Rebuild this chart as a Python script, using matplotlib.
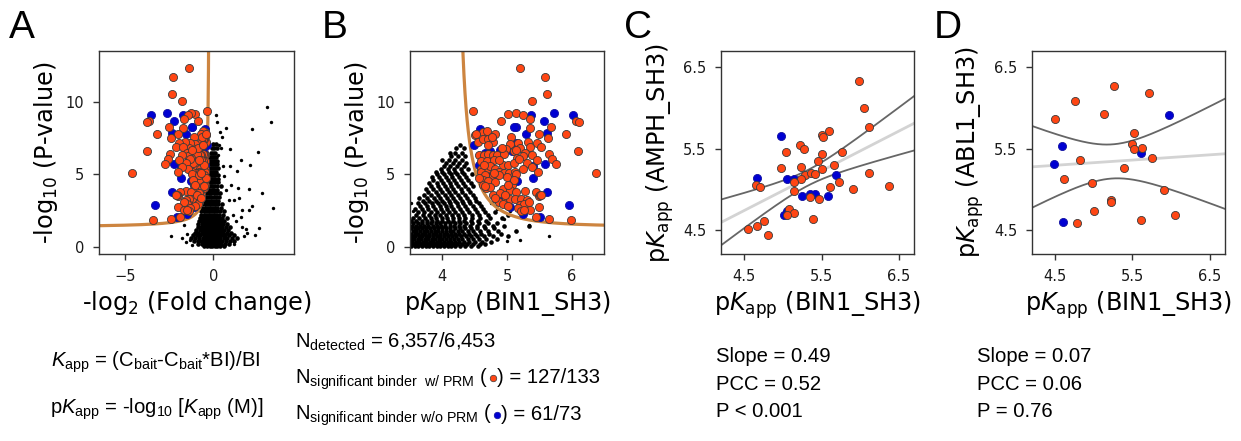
import numpy as np
import matplotlib
matplotlib.use("Agg")
import matplotlib.pyplot as plt
from matplotlib import font_manager as fm

# ------------------------------------------------------------------ data
# significant binders (panel B space): pKapp (BIN1_SH3), -log10 P
prm_pk = [5.20, 5.59, 5.61, 5.39, 4.47, 5.02, 5.14, 5.24, 4.91, 5.35, 5.36, 5.68, 6.06, 6.11, 5.91,
          6.10, 6.37, 4.50, 4.62, 4.69, 4.81, 5.06, 5.49, 5.63, 4.55, 4.63, 4.70, 4.78, 5.04, 5.17,
          5.20, 5.32, 5.46, 5.52, 5.36, 4.98, 5.11, 5.27, 4.57, 4.64, 4.71, 4.78, 4.84, 4.95, 5.15,
          5.24, 5.39, 5.65, 5.70, 5.76, 4.59, 4.69, 4.80, 4.94, 5.01, 5.10, 5.19, 5.30, 5.46, 4.60,
          4.69, 4.74, 4.82, 4.88, 4.95, 5.03, 5.12, 5.24, 5.38, 5.48, 4.59, 4.66, 4.78, 4.99, 5.13,
          4.62, 4.71, 4.82, 4.93, 4.67, 4.73, 5.07, 5.28, 5.44, 5.49, 5.51, 5.05, 5.14, 4.78, 4.83,
          4.88, 4.98, 5.05, 5.12, 5.21, 5.30, 4.93, 5.20, 5.26, 5.34, 5.49, 5.53, 5.02, 5.17, 5.22,
          5.35, 5.44, 5.64, 5.99, 5.26, 4.89, 4.97, 4.81, 4.62, 4.56, 4.87, 4.79, 4.65, 4.87, 4.92,
          4.76, 4.52, 5.13, 5.10, 5.02, 4.66, 4.71]
prm_p = [12.34, 11.68, 10.55, 10.07, 9.40, 9.17, 9.24, 9.06, 8.69, 8.80, 8.21, 8.28, 8.67, 8.60, 7.75,
         6.64, 5.10, 7.70, 7.93, 8.02, 7.79, 7.59, 7.75, 7.49, 7.24, 7.47, 7.47, 7.24, 7.08, 7.15,
         6.80, 7.22, 7.15, 6.92, 6.87, 6.78, 6.64, 6.51, 6.37, 6.32, 6.41, 6.37, 6.37, 6.39, 6.14,
         6.30, 6.37, 6.44, 6.09, 5.72, 5.91, 5.91, 5.98, 5.68, 5.68, 5.77, 6.07, 5.77, 6.00, 5.40,
         5.40, 5.56, 5.38, 5.15, 5.13, 5.10, 5.17, 5.40, 5.49, 5.20, 5.15, 4.94, 4.94, 4.80, 5.03,
         4.64, 4.57, 4.46, 4.02, 4.07, 4.14, 4.30, 3.84, 3.77, 3.49, 3.61, 3.93, 3.79, 3.56, 3.33,
         3.10, 3.38, 3.33, 3.33, 3.31, 3.26, 2.97, 2.92, 2.97, 3.10, 2.78, 3.56, 2.80, 2.69, 2.46,
         2.57, 2.09, 1.93, 1.89, 2.57, 3.72, 3.61, 3.38, 4.30, 4.76, 4.99, 5.10, 5.68, 6.02, 6.83,
         7.56, 7.75, 6.71, 4.64, 4.30, 4.18, 7.06]
noprm_pk = [5.37, 5.72, 5.57, 6.02, 5.13, 5.11, 4.58, 5.29, 5.62, 4.49, 5.14, 4.89, 4.73, 4.66, 5.08,
            4.78, 5.58, 4.57, 5.40, 4.73, 4.63, 4.74, 5.40, 5.15, 4.75, 5.06, 5.62, 4.90, 5.05, 5.25,
            5.25, 5.51, 5.96, 4.96]
noprm_p = [9.06, 9.20, 8.69, 9.08, 8.28, 8.25, 8.12, 7.75, 7.86, 7.03, 7.17, 6.69, 6.60, 6.48, 6.60,
           6.14, 5.75, 5.63, 5.56, 5.17, 5.59, 5.59, 4.74, 4.57, 4.34, 4.30, 3.79, 3.43, 2.74, 3.15,
           2.28, 2.09, 2.87, 3.10]

# panel A, non-significant proteins: -log2 FC per row of -log10 P
a_bg_rows_y = [0.05, 0.2, 0.4, 0.6, 0.8, 1.0, 1.2, 1.4, 1.6, 1.8, 2.0, 2.2, 2.45, 2.7, 2.95, 3.2,
               3.45, 3.7, 3.95, 4.2, 4.45, 4.7, 4.95, 5.2, 5.45, 5.7, 5.95, 6.2, 6.5, 6.8, 7.1]
a_bg_rows_x = [
    [-0.55, -0.35, -0.2, -0.05, 0.08, 0.22, 0.4, 0.6],
    [-0.85, -0.62, -0.45, -0.3, -0.15, 0.0, 0.12, 0.27, 0.45, 0.66, 0.9],
    [-1.1, -0.9, -0.7, -0.52, -0.38, -0.22, -0.08, 0.05, 0.18, 0.33, 0.5, 0.72, 0.95, 1.2],
    [-1.25, -1.02, -0.82, -0.6, -0.44, -0.3, -0.16, -0.02, 0.11, 0.25, 0.4, 0.58, 0.8, 1.05, 1.35],
    [-1.15, -0.93, -0.74, -0.56, -0.4, -0.25, -0.1, 0.03, 0.17, 0.32, 0.48, 0.67, 0.9, 1.15],
    [-1.05, -0.85, -0.66, -0.5, -0.35, -0.2, -0.06, 0.08, 0.22, 0.38, 0.55, 0.76, 1.0],
    [-0.98, -0.78, -0.6, -0.45, -0.3, -0.15, -0.01, 0.13, 0.28, 0.44, 0.62, 0.85],
    [-0.9, -0.72, -0.55, -0.4, -0.26, -0.11, 0.03, 0.17, 0.32, 0.5, 0.7, 0.95],
    [-0.85, -0.66, -0.5, -0.36, -0.22, -0.08, 0.06, 0.2, 0.36, 0.54, 0.8],
    [-0.8, -0.62, -0.46, -0.32, -0.18, -0.04, 0.1, 0.25, 0.42, 0.62],
    [-0.76, -0.58, -0.42, -0.28, -0.14, 0.0, 0.14, 0.3, 0.5, 0.75],
    [-0.72, -0.55, -0.4, -0.26, -0.12, 0.02, 0.17, 0.34, 0.55],
    [-0.7, -0.52, -0.37, -0.23, -0.09, 0.05, 0.2, 0.38, 0.6],
    [-0.66, -0.49, -0.34, -0.2, -0.06, 0.08, 0.23, 0.42],
    [-0.63, -0.46, -0.31, -0.17, -0.03, 0.11, 0.26, 0.5],
    [-0.6, -0.44, -0.29, -0.15, -0.01, 0.13, 0.29],
    [-0.57, -0.41, -0.27, -0.13, 0.01, 0.15, 0.32],
    [-0.54, -0.39, -0.25, -0.11, 0.03, 0.18, 0.4],
    [-0.51, -0.36, -0.22, -0.09, 0.05, 0.2],
    [-0.48, -0.34, -0.2, -0.07, 0.06, 0.22, 0.42],
    [-0.45, -0.31, -0.18, -0.05, 0.08, 0.24],
    [-0.4, -0.28, -0.15, -0.03, 0.1, 0.26],
    [-0.36, -0.24, -0.12, 0.0, 0.12, 0.28],
    [-0.33, -0.21, -0.09, 0.03, 0.15],
    [-0.31, -0.19, -0.07, 0.05, 0.17, 0.29],
    [-0.29, -0.16, -0.04, 0.08, 0.2],
    [-0.27, -0.14, -0.02, 0.1, 0.22],
    [-0.2, -0.08, 0.04, 0.16],
    [-0.15, -0.02, 0.12],
    [-0.08, 0.06, 0.2],
    [-0.03, 0.15],
]
a_sc_x = [0.13, 0.70, 2.17, 3.06, 3.27, 0.93, 2.53, 1.58, 2.11, 1.33, 0.30, 0.25, 2.05, 2.74, 3.38,
          2.19, 1.62, 2.00, 1.20, 0.87, 0.60, 0.55, 0.70, 1.00, 1.40, 1.10, 1.30, 1.60, 1.86, 2.34,
          1.56, 1.75, 1.90, 0.50, 0.35, 0.20, -2.41, -1.69, -1.50, -1.35, -1.55, -1.80, 0.95, 1.45,
          0.45, 1.20, -1.20, 2.60]
a_sc_y = [9.10, 8.18, 8.16, 9.63, 8.62, 6.76, 6.53, 6.02, 5.68, 5.22, 7.06, 6.37, 4.02, 3.72, 2.69,
          2.80, 2.57, 2.57, 3.24, 3.26, 4.90, 5.60, 3.90, 4.30, 4.10, 2.20, 1.80, 1.40, 1.26, 0.85,
          2.05, 0.75, 1.00, 7.60, 7.90, 8.60, 0.74, 1.52, 0.90, 0.50, 0.35, 0.60, 5.60, 3.40, 6.80,
          0.20, 0.15, 1.30]

# panel B, non-significant proteins: pKapp per row of -log10 P
b_bg_rows_y = [0.05, 0.2, 0.38, 0.56, 0.74, 0.92, 1.1, 1.28, 1.46, 1.64, 1.82, 2.0, 2.2, 2.4, 2.6,
               2.8, 3.0, 3.2, 3.4, 3.6, 3.8, 4.0, 4.2, 4.4, 4.6, 4.8, 5.0, 5.2, 5.4, 5.6, 5.8, 6.0,
               6.25, 6.5, 6.8, 7.05]
b_bg_rows_x = [
    [3.52, 3.58, 3.63, 3.69, 3.74, 3.8, 3.86, 3.91, 3.97, 4.02, 4.08, 4.14, 4.2, 4.27, 4.35, 4.44, 4.55],
    [3.51, 3.56, 3.61, 3.67, 3.72, 3.78, 3.83, 3.89, 3.94, 4.0, 4.05, 4.11, 4.17, 4.23, 4.3, 4.38, 4.47, 4.58, 4.66],
    [3.53, 3.59, 3.64, 3.7, 3.75, 3.81, 3.86, 3.92, 3.97, 4.03, 4.08, 4.14, 4.2, 4.26, 4.33, 4.41, 4.5, 4.61, 4.75],
    [3.51, 3.56, 3.62, 3.67, 3.73, 3.78, 3.84, 3.89, 3.95, 4.0, 4.06, 4.12, 4.18, 4.24, 4.31, 4.39, 4.48, 4.57, 4.68, 4.85],
    [3.53, 3.58, 3.64, 3.69, 3.75, 3.8, 3.86, 3.92, 3.97, 4.03, 4.09, 4.15, 4.21, 4.28, 4.36, 4.44, 4.53, 4.64, 4.78, 5.02],
    [3.51, 3.57, 3.62, 3.68, 3.73, 3.79, 3.85, 3.9, 3.96, 4.02, 4.07, 4.13, 4.19, 4.26, 4.33, 4.41, 4.5, 4.6, 4.72, 4.9],
    [3.54, 3.6, 3.65, 3.71, 3.77, 3.82, 3.88, 3.94, 3.99, 4.05, 4.11, 4.17, 4.24, 4.31, 4.39, 4.48, 4.58, 4.7, 4.86, 5.13],
    [3.52, 3.58, 3.63, 3.69, 3.75, 3.81, 3.87, 3.93, 3.99, 4.05, 4.12, 4.19, 4.27, 4.35, 4.44, 4.54, 4.66, 4.8],
    [3.53, 3.6, 3.66, 3.72, 3.78, 3.85, 3.91, 3.98, 4.04, 4.11, 4.18, 4.26, 4.34, 4.43, 4.53, 4.64, 4.78, 4.95, 5.34],
    [3.55, 3.62, 3.69, 3.76, 3.83, 3.9, 3.97, 4.04, 4.11, 4.19, 4.27, 4.36, 4.46, 4.57, 4.7, 4.85],
    [3.52, 3.6, 3.68, 3.76, 3.84, 3.92, 4.0, 4.08, 4.16, 4.25, 4.34, 4.44, 4.55, 4.68],
    [3.55, 3.64, 3.73, 3.82, 3.9, 3.99, 4.07, 4.16, 4.25, 4.35, 4.46, 4.58, 4.74, 4.92],
    [3.6, 3.7, 3.79, 3.88, 3.97, 4.06, 4.15, 4.24, 4.34, 4.45, 4.57, 4.71, 5.02],
    [3.62, 3.72, 3.82, 3.92, 4.01, 4.1, 4.2, 4.3, 4.41, 4.53, 4.66, 4.82],
    [3.58, 3.68, 3.78, 3.88, 3.98, 4.07, 4.17, 4.27, 4.38, 4.5, 4.62],
    [3.66, 3.76, 3.86, 3.96, 4.05, 4.14, 4.24, 4.35, 4.47, 4.6],
    [3.62, 3.73, 3.84, 3.94, 4.03, 4.12, 4.22, 4.32, 4.43, 4.56],
    [3.7, 3.8, 3.9, 4.0, 4.1, 4.2, 4.3, 4.41, 4.52],
    [3.64, 3.76, 3.87, 3.97, 4.07, 4.17, 4.27, 4.38, 4.5],
    [3.72, 3.83, 3.94, 4.04, 4.14, 4.24, 4.35, 4.47],
    [3.78, 3.9, 4.0, 4.1, 4.2, 4.31, 4.43],
    [3.74, 3.86, 3.97, 4.07, 4.17, 4.28, 4.4],
    [3.82, 3.94, 4.04, 4.14, 4.24, 4.35, 4.48],
    [3.8, 3.91, 4.01, 4.11, 4.21, 4.32, 4.44],
    [3.86, 3.98, 4.08, 4.18, 4.29, 4.4],
    [3.84, 3.95, 4.05, 4.15, 4.26, 4.37],
    [3.92, 4.03, 4.13, 4.23, 4.34, 4.46],
    [3.9, 4.0, 4.1, 4.2, 4.31],
    [3.98, 4.08, 4.18, 4.28, 4.4],
    [4.02, 4.12, 4.22, 4.33],
    [4.06, 4.16, 4.26, 4.37],
    [4.0, 4.1, 4.2, 4.3],
    [4.14, 4.24, 4.35],
    [4.12, 4.2, 4.3],
    [4.21, 4.33],
    [4.27],
]
b_sc_x = [5.64, 5.34, 5.13, 5.00, 5.20, 4.95, 5.05, 4.85, 4.75, 3.55, 3.52]
b_sc_y = [0.78, 1.54, 1.08, 0.40, 0.50, 1.90, 2.50, 2.60, 3.00, 2.50, 3.00]

# panel C: pKapp BIN1_SH3 vs AMPH_SH3
c_prm_x = [5.99, 6.05, 6.11, 5.60, 5.51, 5.52, 5.22, 5.27, 5.04, 5.50, 5.76, 5.45, 4.98, 5.23, 5.50,
           5.66, 6.11, 5.29, 5.36, 5.41, 5.23, 5.14, 5.72, 4.65, 4.70, 5.15, 5.61, 5.91, 6.37, 5.35,
           5.47, 5.08, 5.14, 5.05, 5.39, 4.76, 4.67, 4.55, 4.81]
c_prm_y = [6.33, 6.00, 5.76, 5.72, 5.67, 5.64, 5.55, 5.50, 5.46, 5.43, 5.46, 5.35, 5.26, 5.27, 5.25,
           5.30, 5.20, 5.18, 5.20, 5.19, 5.13, 5.09, 5.09, 5.05, 5.03, 4.98, 5.03, 5.00, 5.04, 4.91,
           4.88, 4.76, 4.71, 4.68, 4.63, 4.61, 4.55, 4.51, 4.44]
c_noprm_x = [4.97, 4.67, 5.05, 5.15, 5.69, 5.25, 5.35, 5.41, 5.58, 5.06, 5.02]
c_noprm_y = [5.66, 5.14, 5.12, 5.12, 5.17, 4.92, 4.94, 4.94, 4.92, 4.73, 4.68]

# panel D: pKapp BIN1_SH3 vs ABL1_SH3
d_prm_x = [5.27, 5.72, 4.76, 5.14, 4.50, 5.52, 5.50, 5.52, 5.63, 5.76, 4.82, 5.39, 4.62, 4.98, 5.91,
           5.23, 5.23, 5.01, 6.05, 5.61, 4.78]
d_prm_y = [6.27, 6.18, 6.09, 5.92, 5.86, 5.69, 5.56, 5.49, 5.51, 5.39, 5.36, 5.26, 5.13, 5.08, 4.99,
           4.87, 4.84, 4.73, 4.68, 4.62, 4.58]
d_noprm_x = [5.97, 4.59, 4.49, 5.62, 4.61]
d_noprm_y = [5.91, 5.53, 5.31, 5.44, 4.60]

# significance threshold (panel A space): y = y0 + c / (x0 - x)
thr_x0, thr_c, thr_y0 = -0.21, 0.75, 1.35
bait_pconc = 5.0  # -log10 of bait concentration (10 uM)

# ------------------------------------------------------------------ helpers
def pk_to_lfc(pk):
    return -np.log2(1.0 + 10.0 ** (np.asarray(pk, float) - bait_pconc))


def lfc_to_pk(lfc):
    return bait_pconc + np.log10(2.0 ** (-np.asarray(lfc, float)) - 1.0)


def flatten(rows_y, rows_x):
    xs, ys = [], []
    for yv, row in zip(rows_y, rows_x):
        xs.extend(row)
        ys.extend([yv] * len(row))
    return np.array(xs), np.array(ys)


def fit_ci(x, y, xs, t):
    x = np.asarray(x); y = np.asarray(y)
    n = len(x)
    b, a = np.polyfit(x, y, 1)
    s = np.sqrt(np.sum((y - (a + b * x)) ** 2) / (n - 2))
    sxx = np.sum((x - x.mean()) ** 2)
    se = s * np.sqrt(1.0 / n + (xs - x.mean()) ** 2 / sxx)
    yh = a + b * xs
    return yh, yh - t * se, yh + t * se

# ------------------------------------------------------------------ fonts
try:
    fm.findfont(fm.FontProperties(family="Liberation Sans Narrow"), fallback_to_default=False)
    NOTE_FONT, NOTE_SIZE = "Liberation Sans Narrow", 16.5
except Exception:
    NOTE_FONT, NOTE_SIZE = "Liberation Sans", 14.6
plt.rcParams["mathtext.rm"] = NOTE_FONT
plt.rcParams["mathtext.it"] = NOTE_FONT + ":italic"
plt.rcParams["mathtext.bf"] = NOTE_FONT + ":bold"
plt.rcParams["font.family"] = ["DejaVu Sans"]

W, H = 1241, 441
fig = plt.figure(figsize=(W / 100, H / 100), dpi=100)

ORANGE = "#FF4614"
BLUE = "#0000D2"
CURVE = "#CD8540"
SPINE = "#333333"
LBL = 17.3
TICK = 10.5


def style(ax):
    for s in ax.spines.values():
        s.set_linewidth(1.0)
        s.set_color(SPINE)
    ax.tick_params(direction="out", length=4.5, width=1.0, color=SPINE, pad=6,
                   labelsize=TICK, labelcolor="#1a1a1a")


def px_axes(l, r, t, b):
    return fig.add_axes([l / W, 1 - b / H, (r - l) / W, (b - t) / H])

axA = px_axes(99, 294.3, 51, 254.3)
axB = px_axes(410, 604.3, 51, 254.3)
axC = px_axes(721, 914.3, 51, 254.3)
axD = px_axes(1031.7, 1225, 51, 254.3)

dot_kw = dict(s=34, linewidths=0.6, edgecolors="#3a3a3a", zorder=4)
blue_kw = dict(s=34, linewidths=0.6, edgecolors="#1010a0", zorder=3)
bg_kw = dict(s=11, c="black", linewidths=0, zorder=1)
sc_kw = dict(s=6, c="black", linewidths=0, zorder=1)

d = np.geomspace(0.03, 14, 600)
thr_y = thr_y0 + d
thr_x = thr_x0 - thr_c / d

# Panel A
ax_x, ax_y = flatten(a_bg_rows_y, a_bg_rows_x)
axA.scatter(ax_x, ax_y, **bg_kw)
axA.scatter(a_sc_x, a_sc_y, **sc_kw)
axA.plot(thr_x, thr_y, color=CURVE, lw=2.3, zorder=2)
axA.scatter(pk_to_lfc(noprm_pk), noprm_p, c=BLUE, **blue_kw)
axA.scatter(pk_to_lfc(prm_pk), prm_p, c=ORANGE, **dot_kw)
axA.set_xlim(-6.5, 4.6)
axA.set_ylim(-0.5, 13.5)
axA.set_xticks([-5, 0])
axA.set_yticks([0, 5, 10])
axA.set_xlabel("-log$_2$ (Fold change)", fontsize=LBL)
axA.set_ylabel("-log$_{10}$ (P-value)", fontsize=LBL)
style(axA)

# Panel B
bx, by = flatten(b_bg_rows_y, b_bg_rows_x)
axB.scatter(bx, by, **bg_kw)
axB.scatter(b_sc_x, b_sc_y, **sc_kw)
axB.plot(lfc_to_pk(thr_x), thr_y, color=CURVE, lw=2.3, zorder=2)
axB.scatter(noprm_pk, noprm_p, c=BLUE, **blue_kw)
axB.scatter(prm_pk, prm_p, c=ORANGE, **dot_kw)
axB.set_xlim(3.5, 6.5)
axB.set_ylim(-0.5, 13.5)
axB.set_xticks([4, 5, 6])
axB.set_yticks([0, 5, 10])
axB.set_xlabel(r"p$K_{\mathrm{app}}$ (BIN1_SH3)", fontsize=LBL)
axB.set_ylabel("-log$_{10}$ (P-value)", fontsize=LBL)
style(axB)

# Panels C, D
xs = np.linspace(4.2, 6.7, 200)
for ax, px_, py_, bx_, by_, name in [
        (axC, c_prm_x, c_prm_y, c_noprm_x, c_noprm_y, "AMPH_SH3"),
        (axD, d_prm_x, d_prm_y, d_noprm_x, d_noprm_y, "ABL1_SH3")]:
    allx = np.r_[px_, bx_]
    ally = np.r_[py_, by_]
    t = 2.01 if len(allx) > 40 else 2.06
    yh, lo, hi = fit_ci(allx, ally, xs, t)
    ax.plot(xs, yh, color="#d3d3d3", lw=2.0, zorder=2)
    ax.plot(xs, lo, color="#666666", lw=1.3, zorder=2)
    ax.plot(xs, hi, color="#666666", lw=1.3, zorder=2)
    ax.scatter(px_, py_, c=ORANGE, **dot_kw)
    ax.scatter(bx_, by_, c=BLUE, **blue_kw)
    ax.set_xlim(4.2, 6.7)
    ax.set_ylim(4.2, 6.7)
    ax.set_xticks([4.5, 5.5, 6.5])
    ax.set_yticks([4.5, 5.5, 6.5])
    ax.set_xlabel(r"p$K_{\mathrm{app}}$ (BIN1_SH3)", fontsize=LBL)
    ax.set_ylabel(r"p$K_{\mathrm{app}}$ (" + name + ")", fontsize=LBL,
                  labelpad=5 if name == "AMPH_SH3" else 6)
    style(ax)

# panel letters
for lx, letter in [(9, "A"), (322, "B"), (624, "C"), (934, "D")]:
    fig.text(lx / W, 1 - 38.5 / H, letter, fontsize=28, family="Liberation Sans",
             va="baseline", ha="left")

# notes below the panels
def note(xp, yp, s, **kw):
    return fig.text(xp / W, 1 - yp / H, s, fontsize=NOTE_SIZE, family=NOTE_FONT,
                    math_fontfamily="custom", va="baseline", ha="left", **kw)

note(51, 366.7, r"$K_{\mathrm{app}}$ = (C$_{\mathrm{bait}}$-C$_{\mathrm{bait}}$*BI)/BI")
note(50, 414, r"p$K_{\mathrm{app}}$ = -log$_{10}$ [$K_{\mathrm{app}}$ (M)]")
note(295, 347.3, r"N$_{\mathrm{detected}}$ = 6,357/6,453")
ta = note(295, 383.3, r"N$_{\mathrm{significant\ binder\ \ w/\ PRM}}$ (")
tb = note(295, 420, r"N$_{\mathrm{significant\ binder\ w/o\ PRM}}$ (")
for i, s in enumerate(["Slope = 0.49", "PCC = 0.52", "P < 0.001"]):
    note(716, [361.7, 390, 416.7][i], s)
for i, s in enumerate(["Slope = 0.07", "PCC = 0.06", "P = 0.76"]):
    note(976.7, [361.7, 390, 416.7][i], s)

fig.canvas.draw()
r = fig.canvas.get_renderer()
ov = fig.add_axes([0, 0, 1, 1], zorder=10)
ov.set_xlim(0, W)
ov.set_ylim(0, H)
ov.axis("off")
for t_, yp, col, ec, rest in [(ta, 383.3, ORANGE, "#3a3a3a", ") = 127/133"),
                              (tb, 420, BLUE, "#1010a0", ") = 61/73")]:
    bb = t_.get_window_extent(r)
    ov.scatter([bb.x1 + 4.5], [H - yp + 5], s=22, c=col, edgecolors=ec, linewidths=0.5)
    note(bb.x1 + 9, yp, rest)

fig.savefig("out.png", dpi=100)
